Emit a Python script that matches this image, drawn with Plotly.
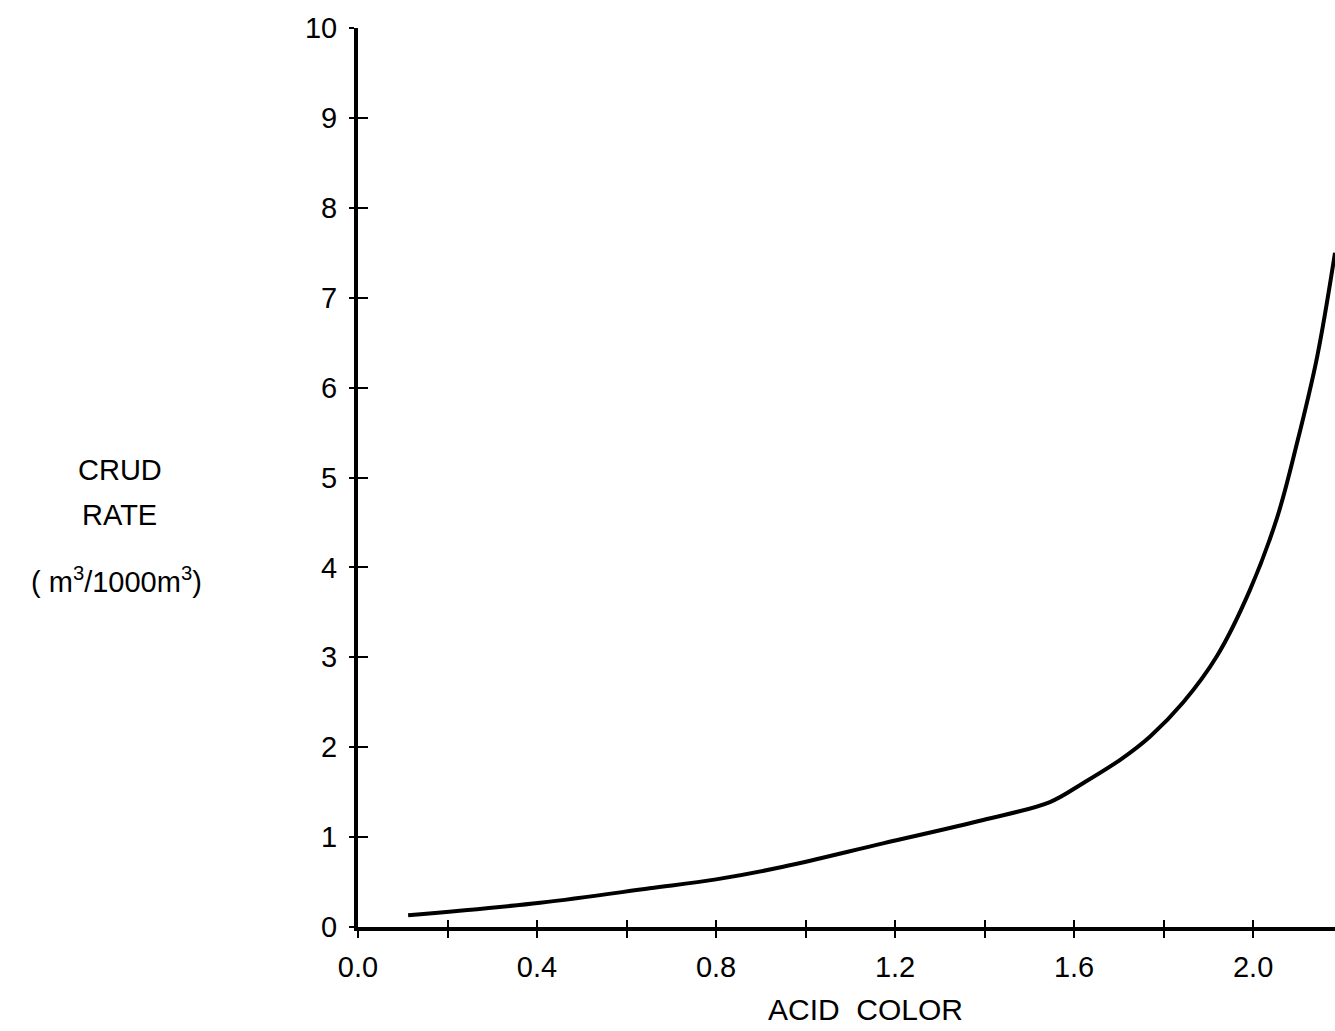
import plotly.graph_objects as go

# Data
acid_color = [0.112, 0.407, 0.652, 0.80, 0.95, 1.173, 1.397, 1.546, 1.62, 1.703, 1.770, 1.844, 1.920, 1.993, 2.054, 2.098, 2.143, 2.183]
crud_rate = [0.13, 0.27, 0.43, 0.53, 0.67, 0.93, 1.19, 1.39, 1.60, 1.86, 2.12, 2.50, 3.02, 3.75, 4.56, 5.38, 6.34, 7.50]

x_label_vals = [0.0, 0.4, 0.8, 1.2, 1.6, 2.0]
x_label_text = ["0.0", "0.4", "0.8", "1.2", "1.6", "2.0"]
x_tick_vals = [0.0, 0.2, 0.4, 0.6, 0.8, 1.0, 1.2, 1.4, 1.6, 1.8, 2.0]
y_tick_vals = [0, 1, 2, 3, 4, 5, 6, 7, 8, 9, 10]
y_tick_text = ["0", "1", "2", "3", "4", "5", "6", "7", "8", "9", "10"]

X_RANGE = [0, 2.183]
Y_RANGE = [0, 10]
FONT = "Liberation Sans"

fig = go.Figure()
fig.add_trace(go.Scatter(
    x=acid_color, y=crud_rate, mode="lines",
    line=dict(color="black", width=4, shape="spline", smoothing=1.0),
    showlegend=False, hoverinfo="skip",
))
# invisible trace for the overlay axes
fig.add_trace(go.Scatter(x=[None], y=[None], xaxis="x2", yaxis="y2", showlegend=False))

fig.update_layout(
    width=1335, height=1031,
    margin=dict(l=358, r=0, t=28, b=104),
    paper_bgcolor="white", plot_bgcolor="white",
    font=dict(family=FONT, color="black", size=28),
    xaxis=dict(
        range=X_RANGE, tickvals=x_label_vals, ticktext=x_label_text,
        ticks="outside", ticklen=7, tickwidth=2, tickcolor="black",
        minor=dict(tick0=0, dtick=0.2, ticks="outside", ticklen=7, tickwidth=2, tickcolor="black", showgrid=False),
        showline=True, linewidth=4, linecolor="black",
        showgrid=False, zeroline=False, ticklabelstandoff=4,
        tickfont=dict(family=FONT, size=29, color="black"),
    ),
    yaxis=dict(
        range=Y_RANGE, tickvals=y_tick_vals, ticktext=y_tick_text,
        ticks="outside", ticklen=5, tickwidth=2, tickcolor="black",
        showline=True, linewidth=4, linecolor="black",
        showgrid=False, zeroline=False, ticklabelstandoff=6,
        tickfont=dict(family=FONT, size=29, color="black"),
    ),
    xaxis2=dict(
        range=X_RANGE, overlaying="x", anchor="y", side="bottom",
        tickvals=x_tick_vals, showticklabels=False,
        ticks="inside", ticklen=7, tickwidth=2, tickcolor="black",
        showline=False, showgrid=False, zeroline=False,
    ),
    yaxis2=dict(
        range=Y_RANGE, overlaying="y", anchor="x", side="left",
        tickvals=y_tick_vals, showticklabels=False,
        ticks="inside", ticklen=10, tickwidth=2, tickcolor="black",
        showline=False, showgrid=False, zeroline=False,
    ),
    annotations=[
        dict(text="ACID&nbsp;&nbsp;COLOR", xref="paper", yref="paper", x=0.519, y=-0.092,
             showarrow=False, font=dict(family=FONT, size=30, color="black"),
             xanchor="center", yanchor="middle"),
        dict(text="CRUD", xref="paper", yref="paper", x=-0.244, y=0.508,
             showarrow=False, font=dict(family=FONT, size=29, color="black"),
             xanchor="center", yanchor="middle"),
        dict(text="RATE", xref="paper", yref="paper", x=-0.244, y=0.458,
             showarrow=False, font=dict(family=FONT, size=29, color="black"),
             xanchor="center", yanchor="middle"),
        dict(text="( m<sup>3</sup>/1000m<sup>3</sup>)", xref="paper", yref="paper", x=-0.247, y=0.386,
             showarrow=False, font=dict(family=FONT, size=29, color="black"),
             xanchor="center", yanchor="middle"),
    ],
)

fig.write_html("out.html")
